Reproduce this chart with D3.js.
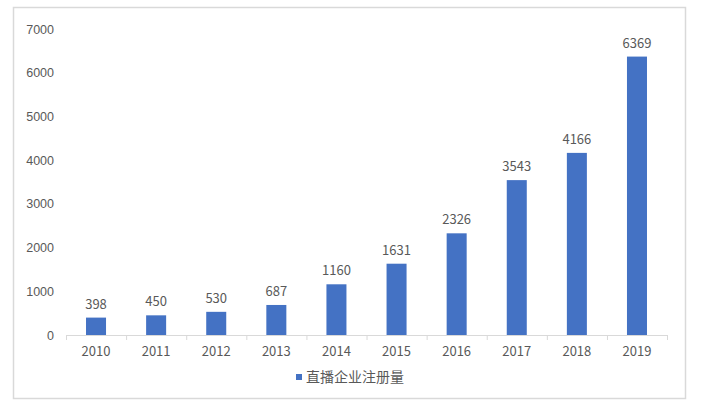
<!DOCTYPE html>
<html>
<head>
<meta charset="utf-8">
<script src="https://cdn.jsdelivr.net/npm/d3@7"></script>
<style>
  body { margin: 0; background: #fff; }
  svg text { fill: #595959; }
</style>
</head>
<body>
<svg id="chart" width="706" height="411"></svg>
<script>
// registered live-streaming companies per year
var years = ['2010', '2011', '2012', '2013', '2014', '2015', '2016', '2017', '2018', '2019'];
var counts = [398, 450, 530, 687, 1160, 1631, 2326, 3543, 4166, 6369];
var yTicks = [0, 1000, 2000, 3000, 4000, 5000, 6000, 7000];
var seriesName = '直播企业注册量';

var margin = { top: 29, right: 39, bottom: 76, left: 66 };
var width = 706, height = 411;

var svg = d3.select('svg#chart');

// outer frame
svg.append('rect')
    .attr('x', 13.5).attr('y', 7.5)
    .attr('width', 672).attr('height', 391)
    .attr('fill', 'none')
    .attr('stroke', '#d9d9d9')
    .attr('stroke-width', 1.5);

var x = d3.scaleBand()
    .domain(years)
    .range([margin.left, width - margin.right])
    .paddingInner(0.667)
    .paddingOuter(0.333);

var y = d3.scaleLinear()
    .domain([0, 7000])
    .range([height - margin.bottom, margin.top]);

// y axis labels only, no line
var yAxis = svg.append('g')
    .attr('transform', 'translate(' + (margin.left - 12) + ',0)')
    .call(d3.axisLeft(y).tickValues(yTicks).tickFormat(d3.format('d')).tickSize(0).tickPadding(0));
yAxis.select('.domain').remove();
yAxis.selectAll('text')
    .style('font-family', '"Liberation Sans", Arial, sans-serif')
    .style('font-size', '12.5px')
    .style('fill', '#595959');

// x axis line with ticks at the band edges
var x0 = margin.left, x1 = width - margin.right, base = y(0);
var xg = svg.append('g');
xg.append('line')
    .attr('x1', x0).attr('x2', x1)
    .attr('y1', base + 0.5).attr('y2', base + 0.5)
    .attr('stroke', '#d9d9d9');
var edges = years.map(function(d, i) { return x0 + i * x.step(); }).concat([x1]);
xg.selectAll('.tick')
    .data(edges)
    .enter().append('line')
        .attr('x1', function(d) { return d + 0.5; })
        .attr('x2', function(d) { return d + 0.5; })
        .attr('y1', base).attr('y2', base + 5)
        .attr('stroke', '#d9d9d9');
xg.selectAll('.label')
    .data(years)
    .enter().append('text')
        .attr('x', function(d) { return x(d) + x.bandwidth() / 2; })
        .attr('y', base + 21)
        .attr('text-anchor', 'middle')
        .style('font-family', '"Noto Sans CJK SC", sans-serif')
        .style('font-size', '13px')
        .text(function(d) { return d; });

// bars
svg.selectAll('.bar')
    .data(counts)
    .enter().append('rect')
        .attr('class', 'bar')
        .attr('x', function(d, i) { return x(years[i]); })
        .attr('y', function(d) { return y(d); })
        .attr('width', x.bandwidth())
        .attr('height', function(d) { return base - y(d); })
        .attr('fill', '#4472c4');

// data labels
svg.selectAll('.val')
    .data(counts)
    .enter().append('text')
        .attr('x', function(d, i) { return x(years[i]) + x.bandwidth() / 2; })
        .attr('y', function(d) { return y(d) - 9; })
        .attr('text-anchor', 'middle')
        .style('font-family', '"Noto Sans CJK SC", sans-serif')
        .style('font-size', '13px')
        .text(function(d) { return d; });

// legend
var lg = svg.append('g').attr('transform', 'translate(296,377)');
lg.append('rect')
    .attr('x', 0).attr('y', -3)
    .attr('width', 6).attr('height', 6)
    .attr('fill', '#4472c4');
lg.append('text')
    .attr('x', 10).attr('y', 5)
    .style('font-family', '"Noto Sans CJK SC", sans-serif')
    .style('font-size', '14px')
    .text(seriesName);
</script>
</body>
</html>
